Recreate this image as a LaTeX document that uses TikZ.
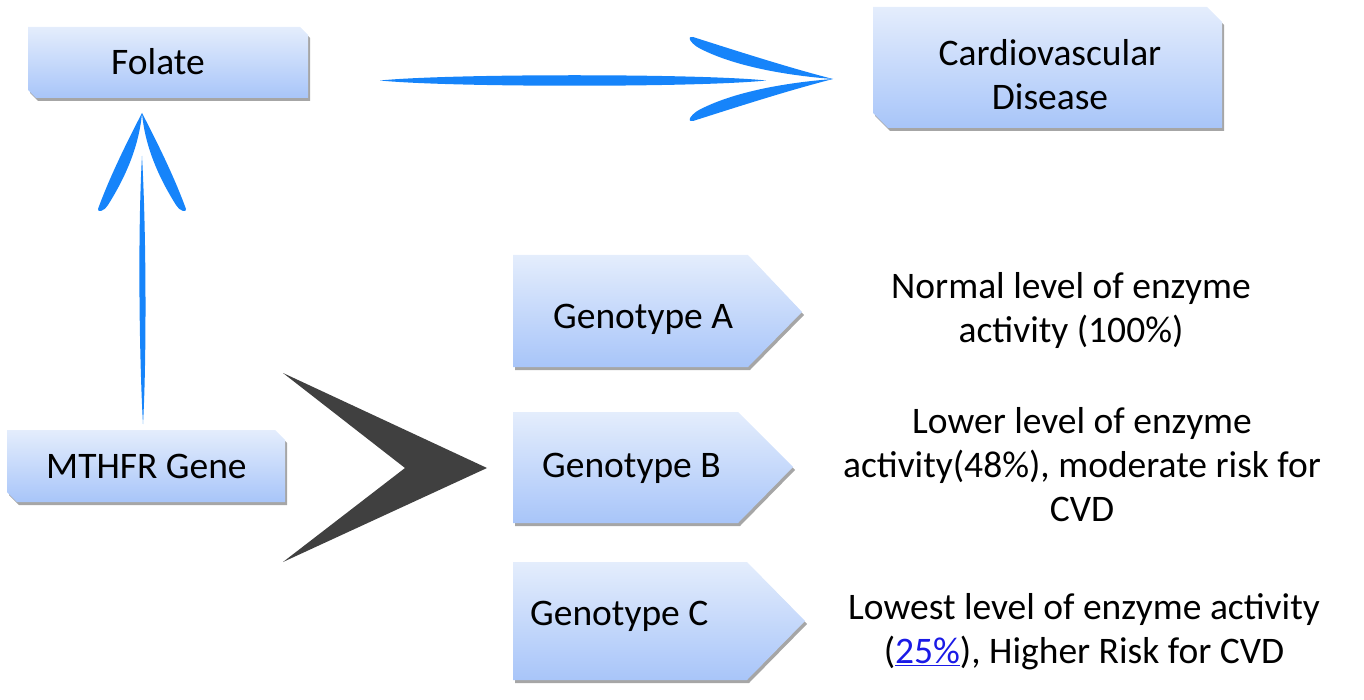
\documentclass[tikz,border=0pt]{standalone}
\usepackage{fontspec}
\setmainfont{Carlito}
\usetikzlibrary{shadows,calc}
\definecolor{arrowblue}{HTML}{1684FA}
\definecolor{boxtop}{HTML}{E4EDFC}
\definecolor{boxbot}{HTML}{A8C5F9}
\definecolor{chevgray}{HTML}{404040}
\definecolor{linkblue}{HTML}{1A1AE6}
\begin{document}
\begin{tikzpicture}[x=1pt,y=-1pt,
  boxfill/.style={top color=boxtop,bottom color=boxbot,
    drop shadow={shadow xshift=2pt,shadow yshift=-3pt,opacity=0.35,fill=black}},
  lbl/.style={font=\fontsize{37.5}{44}\selectfont,anchor=base west,inner sep=0pt},
  desc/.style={font=\fontsize{37.5}{44}\selectfont,align=center,anchor=base,inner sep=0pt},
  blue arrow/.style={fill=arrowblue},
  chevron/.style={fill=chevgray}]
\useasboundingbox (0,0) rectangle (1364,700);

% snipped boxes
\path[boxfill] (28,27) -- (300,27) -- (308,35) -- (308,98) -- (36,98) -- (28,90) -- cycle;
\path[boxfill] (873,7) -- (1207,7) -- (1222,22) -- (1222,128) -- (888,128) -- (873,113) -- cycle;
\path[boxfill] (7,430) -- (275,430) -- (285,440) -- (285,502) -- (17,502) -- (7,492) -- cycle;

% genotype pentagons
\path[boxfill] (513,255) -- (748,255) -- (802,312) -- (748,367) -- (513,367) -- cycle;
\path[boxfill] (513,412) -- (738,412) -- (793,467) -- (738,523) -- (513,523) -- cycle;
\path[boxfill] (513,562) -- (747,562) -- (805,621) -- (747,680) -- (513,680) -- cycle;

% labels (base anchor of a multi-line node = baseline of its last line)
\node[lbl] (folate) at (111,75) {Folate};
\node[desc] (cvd) at (1050,110) {Cardiovascular\\Disease};
\node[lbl] (mthfr) at (46,478) {MTHFR Gene};
\node[lbl] (gA) at (553,328) {Genotype A};
\node[lbl] (gB) at (542,477) {Genotype B};
\node[lbl] (gC) at (530,625) {Genotype C};
\node[desc] (dA) at (1071,342) {Normal level of enzyme\\activity (100\%)};
\node[desc] (dB) at (1082,521) {Lower level of enzyme\\activity(48\%), moderate risk for\\CVD};
\node[desc] (dC) at (1084,663) {Lowest level of enzyme activity\\(\textcolor{linkblue}{\underline{25\%}}), Higher Risk for CVD};

% horizontal arrow Folate -> CVD
\coordinate (hs) at (380,80.5);
\coordinate (hse) at (766,80.5);
\coordinate (ht) at (833,79);
\coordinate (hb1) at (693,37);
\coordinate (hb2) at (693,121);
\fill[blue arrow] (hs) .. controls +(70,-7) and +(-66,-7) .. (hse) .. controls +(-66,7) and +(70,7) .. (hs) -- cycle;
\fill[blue arrow] (hb1) .. controls +(47,15) and +(-43,-11) .. (ht) .. controls +(-52,-4) and +(32,17) .. ($(hb1)+(6,11)$) .. controls +(-6,-3) and +(-8,-1) .. (hb1) -- cycle;
\fill[blue arrow] (hb2) .. controls +(47,-15) and +(-43,11) .. (ht) .. controls +(-52,4) and +(32,-17) .. ($(hb2)+(6,-11)$) .. controls +(-6,3) and +(-8,1) .. (hb2) -- cycle;

% vertical arrow MTHFR -> Folate
\coordinate (vt) at (142,113);
\coordinate (vb1) at (98,209);
\coordinate (vb2) at (186,209);
\coordinate (vse) at (142,156);
\coordinate (vs) at (143,424);
\fill[blue arrow] (vse) .. controls +(-4.5,80) and +(-3.5,-60) .. (vs) .. controls +(3.5,-60) and +(4.5,80) .. (vse) -- cycle;
\fill[blue arrow] (vb1) .. controls +(12,-33) and +(-14,27) .. (vt) .. controls +(-3,34) and +(17,-27) .. ($(vb1)+(10,-4)$) .. controls +(-3,6) and +(-1,4) .. (vb1) -- cycle;
\fill[blue arrow] (vb2) .. controls +(-12,-33) and +(14,27) .. (vt) .. controls +(3,34) and +(-17,-27) .. ($(vb2)+(-10,-4)$) .. controls +(3,6) and +(1,4) .. (vb2) -- cycle;

% chevron MTHFR -> genotypes
\coordinate (c1) at (283,373);
\coordinate (ct) at (487,468);
\coordinate (c2) at (283,562);
\coordinate (cn) at (405,468);
\fill[chevron] (c1) -- (ct) -- (c2) -- (cn) -- cycle;
\end{tikzpicture}
\end{document}
